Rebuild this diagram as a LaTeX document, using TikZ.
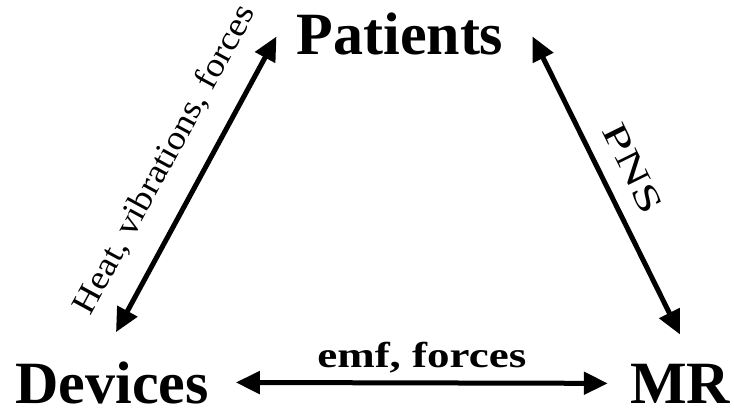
\documentclass[tikz,border=0pt]{standalone}
\usepackage{fontspec}
\setmainfont{Liberation Serif}
\usetikzlibrary{positioning,calc,arrows.meta}

\begin{document}
\begin{tikzpicture}[x=1pt,y=1pt,>={Triangle[length=24pt,width=22pt]},
  party/.style={font=\fontsize{60}{60}\selectfont\bfseries,inner sep=0pt,anchor=base},
  link/.style={<->,line width=5pt},
  tag/.style={font=\fontsize{34}{34}\selectfont,inner sep=0pt}]
\useasboundingbox (0,0) rectangle (734,409);
\node[party] (patients) at (400,354) {Patients};
\node[party] (devices) at (112,5) {Devices};
\node[party] (mr) at (680,5) {MR};
\draw[link] ($(devices.north)+(4,30)$) -- node[tag,sloped,pos=.52,above=22pt] {\scalebox{1.09}[1]{Heat, vibrations, forces}} ($(patients.west)+(-20,-2)$);
\draw[link] ($(patients.east)+(29,-2)$) -- node[tag,sloped,pos=.49,above=17pt,font=\fontsize{35}{35}\selectfont] {\scalebox{1.5}[1]{PNS}} ($(mr.north)+(0,30)$);
\draw[link] ($(devices.east)+(27,1)$) -- node[tag,midway,above=7pt,font=\fontsize{36}{36}\selectfont\bfseries] {\scalebox{1.25}[1]{emf, forces}} ($(mr.west)+(-22,1)$);
\end{tikzpicture}
\end{document}
